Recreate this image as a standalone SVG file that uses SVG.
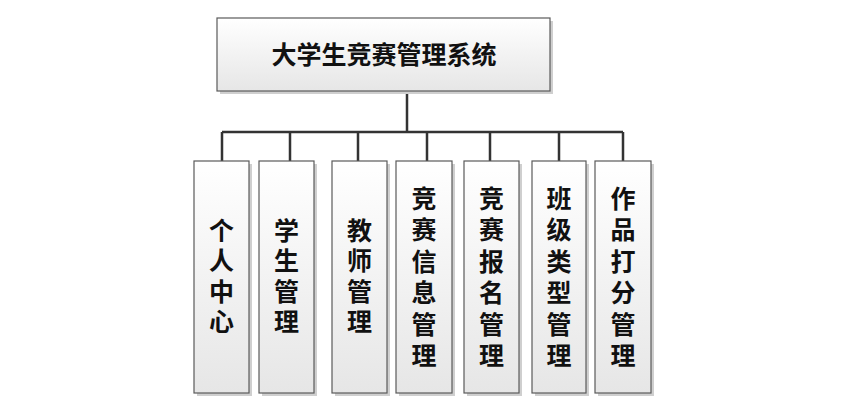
<svg xmlns="http://www.w3.org/2000/svg" width="842" height="406" viewBox="0 0 842 406">
<defs>
<linearGradient id="g" x1="0" y1="0" x2="0" y2="1">
<stop offset="0" stop-color="#ffffff"/>
<stop offset="1" stop-color="#e6e6e6"/>
</linearGradient>
<style>
.box{fill:url(#g);stroke:#5a5a5a;stroke-width:1.2}
.sh{fill:#cfcfcf}
.t{font-family:"Noto Sans CJK SC","Noto Sans",sans-serif;font-weight:bold;font-size:25px;fill:#111;text-anchor:middle}
.c{fill:none;stroke:#333;stroke-width:2.5}
</style>
</defs>
<rect width="842" height="406" fill="#fff"/>
<g id="connectors">
<path class="c" d="M407 91V132M222 132H623M222 132V161M290 132V161M358 132V161M427 132V161M490 132V161M559 132V161M623 132V161"/>
</g>
<g id="root">
<rect class="sh" x="220" y="21" width="333" height="73"/>
<rect class="box" x="217" y="18" width="333" height="73"/>
<text class="t" x="384" y="63.5" font-size="26.5">大学生竞赛管理系统</text>
</g>
<g id="n1">
<rect class="sh" x="197" y="164" width="55" height="232"/>
<rect class="box" x="194" y="161" width="55" height="232"/>
<text class="t"><tspan x="221.5" y="239.5">个</tspan><tspan x="221.5" y="270">人</tspan><tspan x="221.5" y="300.5">中</tspan><tspan x="221.5" y="331">心</tspan></text>
</g>
<g id="n2">
<rect class="sh" x="262" y="164" width="55" height="232"/>
<rect class="box" x="259" y="161" width="55" height="232"/>
<text class="t"><tspan x="286.5" y="239.5">学</tspan><tspan x="286.5" y="270">生</tspan><tspan x="286.5" y="300.5">管</tspan><tspan x="286.5" y="331">理</tspan></text>
</g>
<g id="n3">
<rect class="sh" x="335" y="164" width="55" height="232"/>
<rect class="box" x="332" y="161" width="55" height="232"/>
<text class="t"><tspan x="359.5" y="239.5">教</tspan><tspan x="359.5" y="270">师</tspan><tspan x="359.5" y="300.5">管</tspan><tspan x="359.5" y="331">理</tspan></text>
</g>
<g id="n4">
<rect class="sh" x="399" y="164" width="56" height="232"/>
<rect class="box" x="396" y="161" width="56" height="232"/>
<text class="t"><tspan x="424" y="207.5">竞</tspan><tspan x="424" y="239">赛</tspan><tspan x="424" y="270.5">信</tspan><tspan x="424" y="302">息</tspan><tspan x="424" y="333.5">管</tspan><tspan x="424" y="365">理</tspan></text>
</g>
<g id="n5">
<rect class="sh" x="467" y="164" width="55" height="232"/>
<rect class="box" x="464" y="161" width="55" height="232"/>
<text class="t"><tspan x="491.5" y="207.5">竞</tspan><tspan x="491.5" y="239">赛</tspan><tspan x="491.5" y="270.5">报</tspan><tspan x="491.5" y="302">名</tspan><tspan x="491.5" y="333.5">管</tspan><tspan x="491.5" y="365">理</tspan></text>
</g>
<g id="n6">
<rect class="sh" x="535" y="164" width="54" height="232"/>
<rect class="box" x="532" y="161" width="54" height="232"/>
<text class="t"><tspan x="559" y="207.5">班</tspan><tspan x="559" y="239">级</tspan><tspan x="559" y="270.5">类</tspan><tspan x="559" y="302">型</tspan><tspan x="559" y="333.5">管</tspan><tspan x="559" y="365">理</tspan></text>
</g>
<g id="n7">
<rect class="sh" x="598" y="164" width="56" height="232"/>
<rect class="box" x="595" y="161" width="56" height="232"/>
<text class="t"><tspan x="623" y="207.5">作</tspan><tspan x="623" y="239">品</tspan><tspan x="623" y="270.5">打</tspan><tspan x="623" y="302">分</tspan><tspan x="623" y="333.5">管</tspan><tspan x="623" y="365">理</tspan></text>
</g>
</svg>
